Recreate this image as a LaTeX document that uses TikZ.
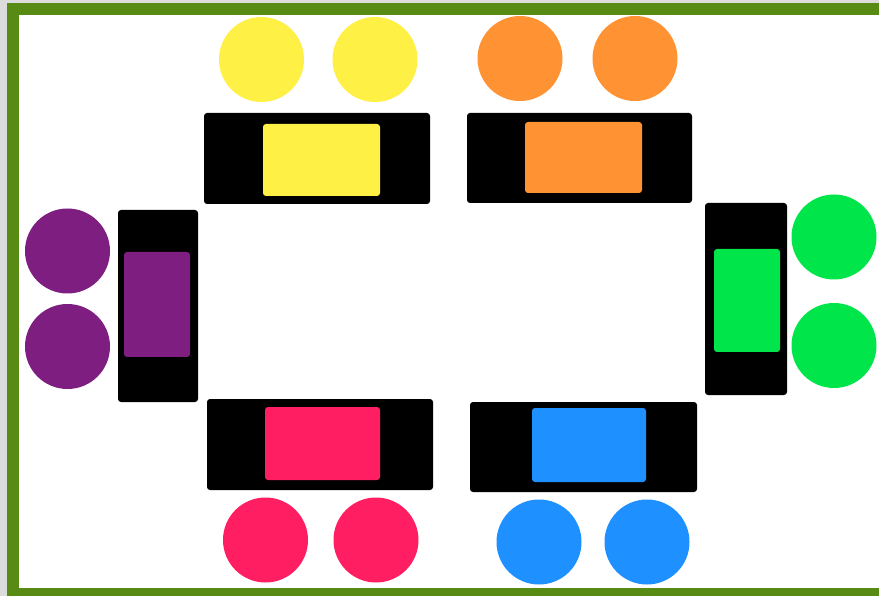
\documentclass[tikz,border=0pt]{standalone}
\usepackage{tikz}
\definecolor{frameGreen}{HTML}{588B14}
\definecolor{frameGray}{HTML}{DCDCDC}
\definecolor{seatYellow}{HTML}{FFF045}
\definecolor{seatOrange}{HTML}{FF9333}
\definecolor{seatPurple}{HTML}{7E1E80}
\definecolor{seatGreen}{HTML}{00E64A}
\definecolor{seatRed}{HTML}{FF1E62}
\definecolor{seatBlue}{HTML}{1E90FF}
\begin{document}
\begin{tikzpicture}[
  x=1pt,y=-1pt,
  seat/.style={circle,inner sep=0pt,outer sep=0pt,minimum size=85pt},
  desk/.style={rectangle,fill=black,rounded corners=3pt,inner sep=0pt,outer sep=0pt},
  board/.style={rectangle,rounded corners=3pt,inner sep=0pt,outer sep=0pt}
]
% ---- Frame ----
\fill[frameGray]  (0,0)   rectangle (879,596);
\fill[frameGreen] (7,3)   rectangle (879,596);
\fill[white]      (19,15) rectangle (879,588);
\useasboundingbox (0,0) rectangle (879,596);

% ---- Top row (yellow, orange) ----
\node[seat,fill=seatYellow] (ys1) at (261.5,59.5) {};
\node[seat,fill=seatYellow] (ys2) at (375,59.5)   {};
\node[desk,minimum width=226pt,minimum height=91pt] (yd) at (317,158.5) {};
\node[board,fill=seatYellow,minimum width=117pt,minimum height=72pt] (yb) at (321.5,160) {};

\node[seat,fill=seatOrange] (os1) at (520,58.5) {};
\node[seat,fill=seatOrange] (os2) at (635,58.5) {};
\node[desk,minimum width=225pt,minimum height=90pt] (od) at (579.5,158) {};
\node[board,fill=seatOrange,minimum width=117pt,minimum height=71pt] (ob) at (583.5,157.5) {};

% ---- Sides (purple, green) ----
\node[seat,fill=seatPurple] (ps1) at (67.5,251)   {};
\node[seat,fill=seatPurple] (ps2) at (67.5,346.5) {};
\node[desk,minimum width=80pt,minimum height=192pt] (pd) at (158,306) {};
\node[board,fill=seatPurple,minimum width=66pt,minimum height=105pt] (pb) at (157,304.5) {};

\node[seat,fill=seatGreen] (gs1) at (834,237)   {};
\node[seat,fill=seatGreen] (gs2) at (834,345.5) {};
\node[desk,minimum width=82pt,minimum height=192pt] (gd) at (746,299) {};
\node[board,fill=seatGreen,minimum width=66pt,minimum height=103pt] (gb) at (747,300.5) {};

% ---- Bottom row (red, blue) ----
\node[desk,minimum width=226pt,minimum height=91pt] (rd) at (320,444.5) {};
\node[board,fill=seatRed,minimum width=115pt,minimum height=73pt] (rb) at (322.5,443.5) {};
\node[seat,fill=seatRed] (rs1) at (265.5,540) {};
\node[seat,fill=seatRed] (rs2) at (376,540)   {};

\node[desk,minimum width=227pt,minimum height=90pt] (bd) at (583.5,447) {};
\node[board,fill=seatBlue,minimum width=114pt,minimum height=74pt] (bb) at (589,445) {};
\node[seat,fill=seatBlue] (bs1) at (539,542) {};
\node[seat,fill=seatBlue] (bs2) at (647,542) {};
\end{tikzpicture}
\end{document}
